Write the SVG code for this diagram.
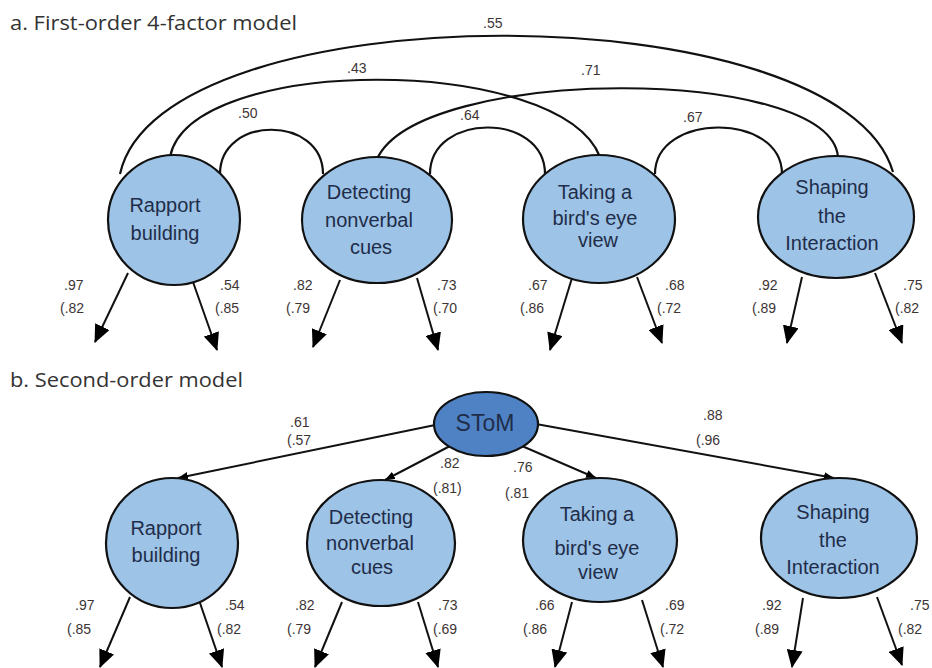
<svg xmlns="http://www.w3.org/2000/svg" width="932" height="668" viewBox="0 0 932 668">
<style>
.title{font-family:"Open Sans","Noto Sans",sans-serif;font-size:20px;fill:#333}
.node{fill:#9dc3e6;stroke:#111;stroke-width:2.2}
.root{fill:#4f82c4;stroke:#111;stroke-width:2.2}
.nt{font-family:"Liberation Sans",Arial,sans-serif;font-size:20px;fill:#1f2d4a;text-anchor:middle}
.lbl{font-family:"Liberation Sans",Arial,sans-serif;font-size:14px;fill:#3d3535}
.arc{fill:none;stroke:#111;stroke-width:2.2}
.ind{fill:none;stroke:#111;stroke-width:2;marker-end:url(#big)}
.path{fill:none;stroke:#111;stroke-width:2;marker-end:url(#small)}
</style>
<defs>
<marker id="big" markerUnits="userSpaceOnUse" markerWidth="18" markerHeight="16" viewBox="0 0 18 16" refX="17" refY="8" orient="auto"><path d="M0,0 L18,8 L0,16 z" fill="#000"/></marker>
<marker id="small" markerUnits="userSpaceOnUse" markerWidth="10" markerHeight="8" viewBox="0 0 10 8" refX="10" refY="4" orient="auto"><path d="M0,0 L10,4 L0,8 z" fill="#000"/></marker>
</defs>
<rect width="932" height="668" fill="#fff"/>
<text class="title" x="10" y="30" textLength="287" lengthAdjust="spacingAndGlyphs">a.  First-order 4-factor model</text>
<text class="title" x="10" y="387" textLength="233" lengthAdjust="spacingAndGlyphs">b.  Second-order model</text>

<g id="connectors">
<!-- part a covariances -->
<path class="arc" d="M120,174 C160,-10 840,-10 893,172"/>
<path class="arc" d="M170,157 C190,54 560,54 600,157"/>
<path class="arc" d="M377,159 C420,65 830,65 838,157"/>
<path class="arc" d="M220,174 C220,115 323,115 323,174"/>
<path class="arc" d="M430,174 C430,112 545,112 545,174"/>
<path class="arc" d="M655,174 C655,112 782,112 782,174"/>
<!-- part a indicators -->
<line class="ind" x1="128" y1="273" x2="95" y2="342"/>
<line class="ind" x1="193" y1="282" x2="217" y2="350"/>
<line class="ind" x1="340" y1="280" x2="313" y2="347"/>
<line class="ind" x1="417" y1="278" x2="438" y2="350"/>
<line class="ind" x1="572" y1="278" x2="550" y2="350"/>
<line class="ind" x1="637" y1="277" x2="662" y2="343"/>
<line class="ind" x1="802" y1="277" x2="787" y2="343"/>
<line class="ind" x1="875" y1="273" x2="902" y2="343"/>
<!-- part b structural paths -->
<line class="path" x1="440" y1="424" x2="178" y2="478"/>
<line class="path" x1="450" y1="446" x2="385" y2="480"/>
<line class="path" x1="522" y1="446" x2="596" y2="478"/>
<line class="path" x1="536" y1="424" x2="834" y2="478"/>
<!-- part b indicators -->
<line class="ind" x1="130" y1="597" x2="100" y2="667"/>
<line class="ind" x1="200" y1="603" x2="222" y2="667"/>
<line class="ind" x1="342" y1="602" x2="315" y2="667"/>
<line class="ind" x1="418" y1="602" x2="438" y2="667"/>
<line class="ind" x1="572" y1="602" x2="555" y2="667"/>
<line class="ind" x1="642" y1="600" x2="663" y2="667"/>
<line class="ind" x1="803" y1="598" x2="792" y2="667"/>
<line class="ind" x1="877" y1="597" x2="902" y2="665"/>
</g>

<g id="a-rapport">
<ellipse class="node" cx="174" cy="220" rx="66" ry="65"/>
<text class="nt" x="165" y="212">Rapport</text>
<text class="nt" x="165" y="240">building</text>
</g>
<g id="a-detecting">
<ellipse class="node" cx="377" cy="220" rx="75" ry="63"/>
<text class="nt" x="369" y="199">Detecting</text>
<text class="nt" x="369" y="227">nonverbal</text>
<text class="nt" x="371" y="254">cues</text>
</g>
<g id="a-taking">
<ellipse class="node" cx="599" cy="219" rx="76" ry="64"/>
<text class="nt" x="595" y="199">Taking a</text>
<text class="nt" x="595" y="225">bird's eye</text>
<text class="nt" x="598" y="247">view</text>
</g>
<g id="a-shaping">
<ellipse class="node" cx="836" cy="217" rx="78" ry="61"/>
<text class="nt" x="832" y="194">Shaping</text>
<text class="nt" x="832" y="223">the</text>
<text class="nt" x="832" y="250">Interaction</text>
</g>

<g id="b-stom">
<ellipse class="root" cx="486" cy="424" rx="52" ry="32"/>
<text class="nt" x="485" y="431" style="font-size:23px">SToM</text>
</g>
<g id="b-rapport">
<ellipse class="node" cx="172" cy="543" rx="66" ry="65"/>
<text class="nt" x="166" y="535">Rapport</text>
<text class="nt" x="166" y="562">building</text>
</g>
<g id="b-detecting">
<ellipse class="node" cx="381" cy="543" rx="74" ry="63"/>
<text class="nt" x="371" y="524">Detecting</text>
<text class="nt" x="370" y="550">nonverbal</text>
<text class="nt" x="372" y="574">cues</text>
</g>
<g id="b-taking">
<ellipse class="node" cx="600" cy="540" rx="77" ry="62"/>
<text class="nt" x="597" y="521">Taking a</text>
<text class="nt" x="597" y="555">bird's eye</text>
<text class="nt" x="598" y="579">view</text>
</g>
<g id="b-shaping">
<ellipse class="node" cx="839" cy="538" rx="78" ry="60"/>
<text class="nt" x="833" y="519">Shaping</text>
<text class="nt" x="833" y="547">the</text>
<text class="nt" x="833" y="574">Interaction</text>
</g>

<g id="labels">
<text class="lbl" x="483" y="28">.55</text>
<text class="lbl" x="347" y="73">.43</text>
<text class="lbl" x="581" y="75">.71</text>
<text class="lbl" x="238" y="118">.50</text>
<text class="lbl" x="460" y="120">.64</text>
<text class="lbl" x="683" y="122">.67</text>

<text class="lbl" x="64" y="290">.97</text><text class="lbl" x="60" y="313">(.82</text>
<text class="lbl" x="220" y="290">.54</text><text class="lbl" x="215" y="313">(.85</text>
<text class="lbl" x="293" y="290">.82</text><text class="lbl" x="286" y="313">(.79</text>
<text class="lbl" x="437" y="290">.73</text><text class="lbl" x="433" y="313">(.70</text>
<text class="lbl" x="528" y="290">.67</text><text class="lbl" x="520" y="313">(.86</text>
<text class="lbl" x="665" y="290">.68</text><text class="lbl" x="657" y="313">(.72</text>
<text class="lbl" x="758" y="290">.92</text><text class="lbl" x="752" y="313">(.89</text>
<text class="lbl" x="903" y="290">.75</text><text class="lbl" x="895" y="313">(.82</text>

<text class="lbl" x="290" y="427">.61</text><text class="lbl" x="287" y="445">(.57</text>
<text class="lbl" x="440" y="468">.82</text><text class="lbl" x="433" y="493">(.81)</text>
<text class="lbl" x="513" y="472">.76</text><text class="lbl" x="505" y="498">(.81</text>
<text class="lbl" x="703" y="420">.88</text><text class="lbl" x="696" y="445">(.96</text>

<text class="lbl" x="75" y="610">.97</text><text class="lbl" x="67" y="634">(.85</text>
<text class="lbl" x="225" y="610">.54</text><text class="lbl" x="217" y="634">(.82</text>
<text class="lbl" x="295" y="610">.82</text><text class="lbl" x="287" y="634">(.79</text>
<text class="lbl" x="438" y="610">.73</text><text class="lbl" x="433" y="634">(.69</text>
<text class="lbl" x="535" y="610">.66</text><text class="lbl" x="523" y="634">(.86</text>
<text class="lbl" x="665" y="610">.69</text><text class="lbl" x="660" y="634">(.72</text>
<text class="lbl" x="762" y="610">.92</text><text class="lbl" x="755" y="634">(.89</text>
<text class="lbl" x="910" y="610">.75</text><text class="lbl" x="898" y="634">(.82</text>
</g>
</svg>
